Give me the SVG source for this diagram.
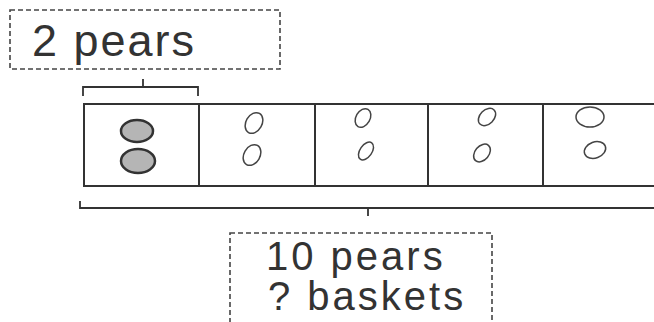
<svg xmlns="http://www.w3.org/2000/svg" width="654" height="322" viewBox="0 0 654 322">
<style>
.bg{fill:#ffffff}
.dash{fill:none;stroke:#444;stroke-width:1.6;stroke-dasharray:5,3}
.lbl{font-family:"Liberation Sans","DejaVu Sans",sans-serif;fill:#333}
.big{font-size:45px;letter-spacing:2px}
.small{font-size:40px;letter-spacing:3px}
.cell{fill:#fff;stroke:#333;stroke-width:2}
.line{fill:none;stroke:#333;stroke-width:1.8}
.full{fill:#b5b5b5;stroke:#333;stroke-width:2.5}
.empty{fill:none;stroke:#444;stroke-width:1.5}
</style>
<rect class="bg" x="0" y="0" width="654" height="322"/>
<g id="label-2-pears">
<rect class="dash" x="10" y="10" width="270" height="59"/>
<text class="lbl big" x="32" y="56">2 pears</text>
</g>
<g id="connectors">
<path class="line" d="M83 96 V87 H198 V96 M143 87 V79"/>
<path class="line" d="M80 201 V208 H660 M368 208 V216"/>
</g>
<g id="strip">
<rect class="cell" x="84" y="104" width="115" height="82"/>
<rect class="cell" x="199" y="104" width="116" height="82"/>
<rect class="cell" x="315" y="104" width="113" height="82"/>
<rect class="cell" x="428" y="104" width="115" height="82"/>
<rect class="cell" x="543" y="104" width="120" height="82"/>
</g>
<g id="basket-1">
<ellipse class="full" cx="137" cy="131" rx="16" ry="11"/>
<ellipse class="full" cx="138" cy="161" rx="17" ry="12"/>
</g>
<g id="basket-2">
<ellipse class="empty" cx="254" cy="123" rx="8" ry="11" transform="rotate(30 254 123)"/>
<ellipse class="empty" cx="252" cy="155" rx="8" ry="11" transform="rotate(30 252 155)"/>
</g>
<g id="basket-3">
<ellipse class="empty" cx="363" cy="118" rx="7" ry="10" transform="rotate(30 363 118)"/>
<ellipse class="empty" cx="366" cy="151" rx="6" ry="10" transform="rotate(35 366 151)"/>
</g>
<g id="basket-4">
<ellipse class="empty" cx="487" cy="117" rx="7" ry="10" transform="rotate(45 487 117)"/>
<ellipse class="empty" cx="482" cy="153" rx="7" ry="10" transform="rotate(40 482 153)"/>
</g>
<g id="basket-5">
<ellipse class="empty" cx="590" cy="117" rx="14" ry="10"/>
<ellipse class="empty" cx="595" cy="150" rx="11" ry="8" transform="rotate(-20 595 150)"/>
</g>
<g id="label-10-pears">
<rect class="dash" x="230" y="233" width="262" height="95"/>
<text class="lbl small" x="266" y="270">10 pears</text>
<text class="lbl small" x="268" y="310">? baskets</text>
</g>
</svg>
